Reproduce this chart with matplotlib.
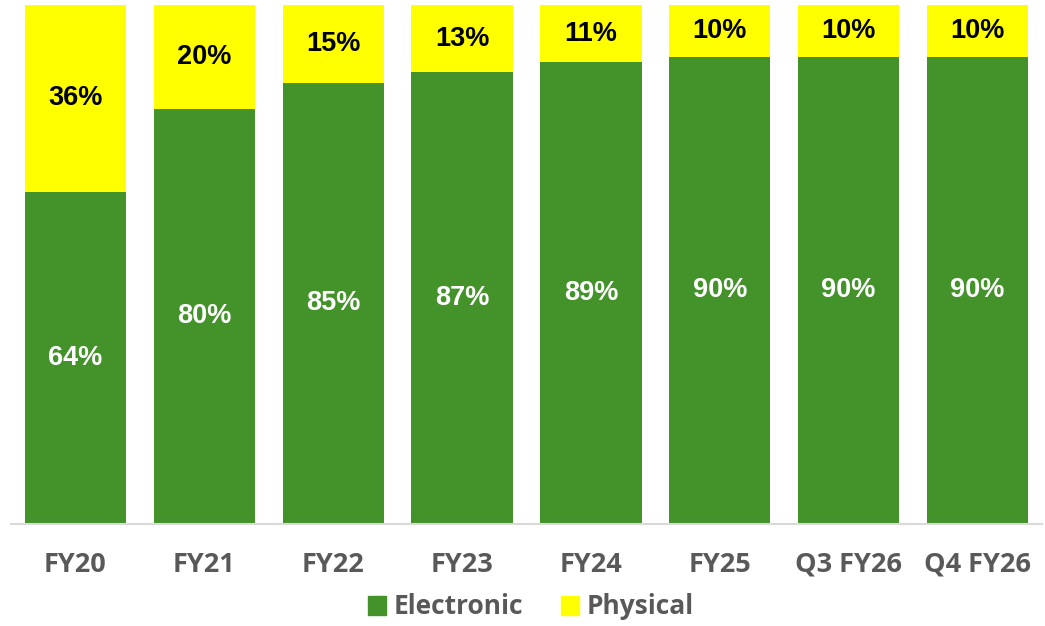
import numpy as np
import matplotlib.pyplot as plt
from matplotlib.patches import Patch

#-------------------------------------------------------------------------------
#DATA

periods = ['FY20', 'FY21', 'FY22', 'FY23', 'FY24', 'FY25', 'Q3 FY26', 'Q4 FY26']
electronic = [64, 80, 85, 87, 89, 90, 90, 90]
physical = [36, 20, 15, 13, 11, 10, 10, 10]

green = '#43922a'
yellow = '#ffff00'
grey = '#595959'

#-------------------------------------------------------------------------------
#PLOT

fig = plt.figure(figsize=(10.45, 6.26), dpi=100)
ax = fig.add_axes([11/1045, 1 - 524/626, 1031/1045, 519/626])

x = np.arange(len(periods))
w = 0.785
ax.bar(x, electronic, w, color=green, zorder=2)
ax.bar(x, physical, w, bottom=electronic, color=yellow, zorder=2)

#value labels in the middle of each segment
for xi, e, p in zip(x, electronic, physical):
    ax.text(xi, e/2, f'{e}%', ha='center', va='center', color='white',
            fontsize=19.5, fontweight='bold', family='Liberation Sans')
    ax.text(xi, e + p/2, f'{p}%', ha='center', va='center', color='black',
            fontsize=19.5, fontweight='bold', family='Liberation Sans')

ax.set_xlim(-0.5, len(periods) - 0.5)
ax.set_ylim(0, 100)
ax.set_yticks([])
ax.set_xticks(x)
ax.set_xticklabels(periods, fontsize=19.5, fontweight='bold', color=grey,
                   family='Open Sans')
ax.tick_params(axis='x', length=0, pad=20)
for s in ['top', 'right', 'left']:
    ax.spines[s].set_visible(False)
ax.spines['bottom'].set_color('#d9d9d9')
ax.spines['bottom'].set_linewidth(1.5)

handles = [Patch(color=green, label='Electronic'),
           Patch(color=yellow, label='Physical')]
fig.legend(handles=handles, loc='center', bbox_to_anchor=(0.508, 1 - 607/626),
           ncol=2, frameon=False, handlelength=0.7, handleheight=0.7,
           handletextpad=0.3, columnspacing=1.4,
           prop={'family': 'Open Sans', 'weight': 'bold', 'size': 19},
           labelcolor=grey)

fig.savefig('out.png', dpi=100)
